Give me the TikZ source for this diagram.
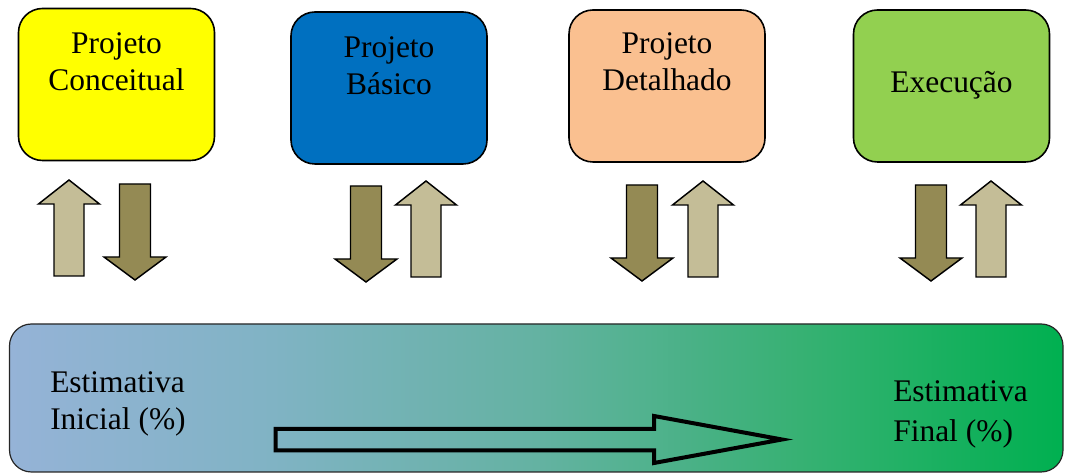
\documentclass[tikz,border=0pt]{standalone}
\usepackage{fontspec}
\setmainfont{Liberation Serif}
\definecolor{stageyellow}{HTML}{FFFF00}
\definecolor{stageblue}{HTML}{0070C0}
\definecolor{stagepeach}{HTML}{FAC090}
\definecolor{stagegreen}{HTML}{92D050}
\definecolor{arrowlight}{HTML}{C4BD97}
\definecolor{arrowdark}{HTML}{948A54}
\definecolor{estA}{RGB}{149,179,215}
\definecolor{estB}{RGB}{128,179,196}
\definecolor{estC}{RGB}{100,178,162}
\definecolor{estD}{RGB}{55,177,115}
\definecolor{estE}{RGB}{0,176,80}
\pgfdeclarehorizontalshading{estgrad}{100bp}{color(0bp)=(estA); color(25bp)=(estA); color(37.5bp)=(estB); color(50bp)=(estC); color(62.5bp)=(estD); color(75bp)=(estE); color(100bp)=(estE)}
\tikzset{
  stage/.style={draw=black, line width=1.2pt, rounded corners=18pt,
    minimum width=147pt, minimum height=114pt, inner sep=0pt},
  stagetext/.style={inner sep=0pt, align=center,
    font=\fontsize{23.6pt}{27.75pt}\selectfont},
  esttext/.style={inner sep=0pt, align=left, anchor=north west,
    font=\fontsize{23.6pt}{27.75pt}\selectfont},
  arrowline/.style={draw=black, line width=1.1pt, line join=miter},
  uparr/.pic={\path[arrowline, fill=arrowlight]
    (0,0) -- (30.5,24) -- (15,24) -- (15,96) -- (-15,96) -- (-15,24) -- (-30.5,24) -- cycle;},
  downarr/.pic={\path[arrowline, fill=arrowdark]
    (0,0) -- (31,-23) -- (15.5,-23) -- (15.5,-96) -- (-15.5,-96) -- (-15.5,-23) -- (-31,-23) -- cycle;}
}
\begin{document}
\begin{tikzpicture}[x=0.75pt, y=-0.75pt]
\useasboundingbox (0,0) rectangle (1065,473);

% project stages
\node[stage, fill=stageyellow] (c1) at (116.5,84.5) {};
\node[stage, fill=stageblue]   (c2) at (389,88)     {};
\node[stage, fill=stagepeach]  (c3) at (667,86)     {};
\node[stage, fill=stagegreen]  (c4) at (951.5,86)   {};

\node[stagetext, anchor=north] (t1) at ([yshift=-18.75pt]c1.north) {Projeto\\Conceitual};
\node[stagetext, anchor=north] (t2) at ([yshift=-18.75pt]c2.north) {Projeto\\Básico};
\node[stagetext, anchor=north] (t3) at ([yshift=-17.5pt]c3.north) {Projeto\\Detalhado};
\node[stagetext, anchor=base]  (t4) at ([yshift=-62.25pt]c4.north) {Execução};

% feedback arrows between stages and estimate
\pic (u1) at (69,180)  {uparr};
\pic (d1) at (135,280) {downarr};
\pic (d2) at (366,282) {downarr};
\pic (u2) at (426,181) {uparr};
\pic (d3) at (642,281) {downarr};
\pic (u3) at (703,181) {uparr};
\pic (d4) at (931,281) {downarr};
\pic (u4) at (991,181) {uparr};

% estimate band
\path[draw=black!85, line width=0.9pt, rounded corners=16.5pt, shading=estgrad]
  (9.5,324) rectangle (1063,472);

\node[esttext] (ei) at (50,371.6) {Estimativa\\Inicial (\%)};
\node[esttext, font=\fontsize{23.6pt}{30pt}\selectfont] (ef) at (893,380.6) {Estimativa\\Final (\%)};

% progression arrow
\draw[line width=3pt, line join=miter]
  (275.5,429) -- (654,429) -- (654,416) -- (782,439.5) -- (654,463) -- (654,450.5) -- (275.5,450.5) -- cycle;
\end{tikzpicture}
\end{document}
